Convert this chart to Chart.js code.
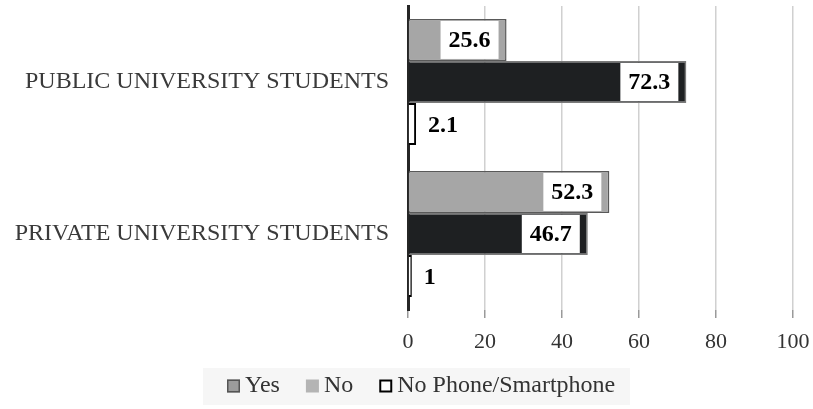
<!DOCTYPE html>
<html>
<head>
<meta charset="utf-8">
<script src="https://cdn.jsdelivr.net/npm/chart.js@4.4.1/dist/chart.umd.min.js"></script>
<style>
  html, body { margin: 0; padding: 0; background: #fff; }
  #wrap { width: 813px; height: 409px; position: relative; }
</style>
</head>
<body>
<div id="wrap"><canvas id="phoneChart"></canvas></div>
<script>
// survey groups and answer shares (%)
var groups = ["PUBLIC UNIVERSITY STUDENTS", "PRIVATE UNIVERSITY STUDENTS"];
var yesValues = [25.6, 52.3];
var noValues = [72.3, 46.7];
var noPhoneValues = [2.1, 1];
var xTicks = [0, 20, 40, 60, 80, 100];

var serif = "'Liberation Serif', 'Times New Roman', serif";

// white boxed value labels at bar ends
var valueLabels = {
  id: "valueLabels",
  afterDatasetsDraw: function(chart) {
    var ctx = chart.ctx;
    ctx.save();
    ctx.font = "bold 24px " + serif;
    ctx.textBaseline = "middle";
    chart.data.datasets.forEach(function(ds, i) {
      var meta = chart.getDatasetMeta(i);
      meta.data.forEach(function(bar, j) {
        var v = ds.data[j];
        var txt = String(v);
        var w = ctx.measureText(txt).width;
        if (v > 10) {
          var right = bar.x - 8;
          var left = right - w - 16;
          ctx.fillStyle = "#fff";
          ctx.fillRect(left, bar.y - 19, w + 16, 38);
          ctx.fillStyle = "#000";
          ctx.textAlign = "center";
          ctx.fillText(txt, left + (w + 16) / 2, bar.y + 1);
        } else {
          ctx.fillStyle = "#000";
          ctx.textAlign = "left";
          ctx.fillText(txt, bar.x + 12, bar.y + 2);
        }
      });
    });
    ctx.restore();
  }
};

// legend row on a light panel, swatches taken from the entries below
var legendEntries = [
  { fill: "#9c9c9c", stroke: "#555555", lw: 1.5 },
  { fill: "#b4b4b4", stroke: null, lw: 0 },
  { fill: "#ffffff", stroke: "#000000", lw: 2 }
];
var legendRow = {
  id: "legendRow",
  afterDraw: function(chart) {
    var ctx = chart.ctx;
    ctx.save();
    ctx.fillStyle = "#f6f6f6";
    ctx.fillRect(203, 368, 427, 37);
    ctx.font = "24px " + serif;
    ctx.textBaseline = "middle";
    ctx.textAlign = "left";
    var x = 227, cy = 386;
    chart.data.datasets.forEach(function(ds, i) {
      var e = legendEntries[i];
      ctx.fillStyle = e.fill;
      ctx.fillRect(x, cy - 6.5, 13, 13);
      if (e.stroke) {
        ctx.strokeStyle = e.stroke;
        ctx.lineWidth = e.lw;
        ctx.strokeRect(x + e.lw / 2, cy - 6.5 + e.lw / 2, 13 - e.lw, 13 - e.lw);
      }
      ctx.fillStyle = "#333";
      ctx.fillText(ds.label, x + 18, cy);
      x += 18 + ctx.measureText(ds.label).width + 26;
    });
    ctx.restore();
  }
};

new Chart(document.getElementById("phoneChart"), {
  type: "bar",
  data: {
    labels: groups,
    datasets: [{
      label: "Yes",
      data: yesValues,
      backgroundColor: "#a6a6a6",
      borderColor: "#595959",
      borderWidth: 1.5
    }, {
      label: "No",
      data: noValues,
      backgroundColor: "#1e2022",
      borderColor: "#7a7a7a",
      borderWidth: 1.5
    }, {
      label: "No Phone/Smartphone",
      data: noPhoneValues,
      backgroundColor: "#ffffff",
      borderColor: "#000000",
      borderWidth: 2
    }]
  },
  options: {
    indexAxis: "y",
    responsive: true,
    maintainAspectRatio: false,
    animation: false,
    layout: { padding: { top: 6, right: 0, bottom: 51, left: 0 } },
    datasets: {
      bar: { barPercentage: 1, categoryPercentage: 0.83 }
    },
    scales: {
      x: {
        min: 0,
        max: 100,
        afterBuildTicks: function(s) {
          s.ticks = xTicks.map(function(v) { return { value: v }; });
        },
        grid: { color: "#d0d0d0", lineWidth: 1.5, tickColor: "#9a9a9a", tickLength: 8 },
        border: { display: false },
        ticks: { color: "#333", padding: 11, font: { family: serif, size: 22 } },
        afterFit: function(s) {
          s.height = 48;
          s.paddingRight = 20;
        }
      },
      y: {
        grid: { display: false },
        border: { display: true, color: "#262626", width: 3 },
        ticks: { color: "#3a3a3a", padding: 11, font: { family: serif, size: 24 } },
        afterFit: function(s) {
          s.width = 408;
          s.paddingTop = 0;
          s.paddingBottom = 0;
        }
      }
    },
    plugins: {
      tooltip: { enabled: false },
      legend: { display: false }
    }
  },
  plugins: [valueLabels, legendRow]
});
</script>
</body>
</html>
